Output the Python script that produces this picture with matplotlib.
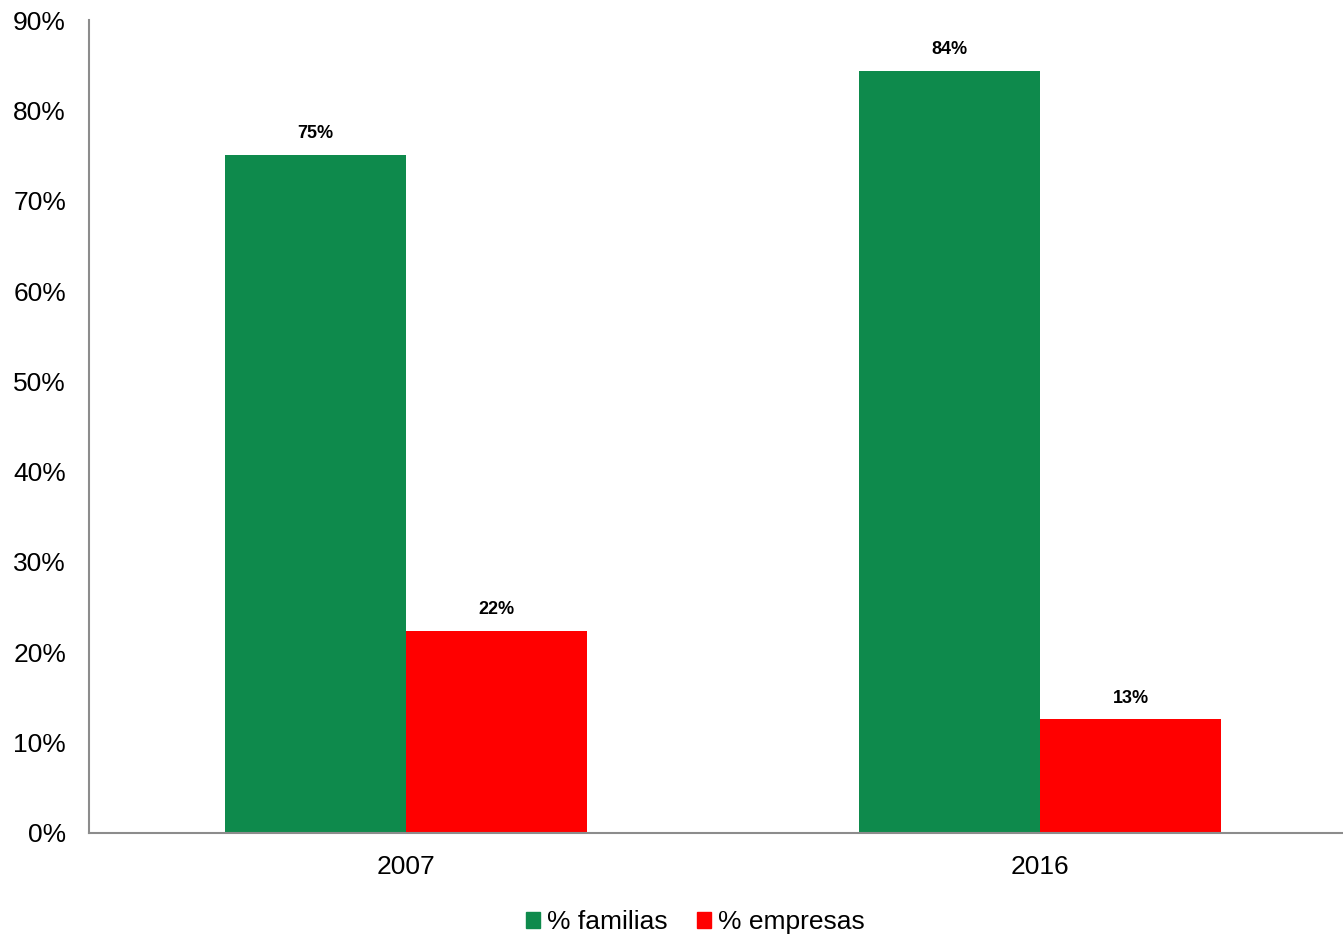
import matplotlib.pyplot as plt
import matplotlib.patches as mpatches
import numpy as np
from matplotlib.ticker import FuncFormatter

plt.rcParams["font.family"] = ["Liberation Sans", "DejaVu Sans"]

years = ["2007", "2016"]
familias = [75.1, 84.4]
empresas = [22.4, 12.6]
series_names = ["% familias", "% empresas"]
colors = ["#0E8A4C", "#FF0000"]

fig = plt.figure(figsize=(13.43, 9.35), dpi=100)
ax = fig.add_axes([0.0663, 0.1091, 0.9337, 0.8695])

x = np.arange(len(years))
w = 0.2855
b1 = ax.bar(x - w / 2, familias, w, color=colors[0], linewidth=0)
b2 = ax.bar(x + w / 2, empresas, w, color=colors[1], linewidth=0)

# value labels above bars
for bars in (b1, b2):
    for r in bars:
        h = r.get_height()
        ax.annotate(f"{h:.0f}%", (r.get_x() + r.get_width() / 2, h),
                    xytext=(0, 15), textcoords="offset points",
                    ha="center", va="center", fontsize=13, fontweight="bold")

ax.set_xlim(-0.5, 1.478)
ax.set_ylim(0, 90)
ax.set_yticks(range(0, 91, 10))
ax.yaxis.set_major_formatter(FuncFormatter(lambda v, p: f"{v:.0f}%"))
ax.set_xticks(x)
ax.set_xticklabels(years)
ax.tick_params(axis="both", length=0, labelsize=19)
ax.tick_params(axis="x", pad=16)
ax.tick_params(axis="y", pad=16.5)

for s in ["top", "right"]:
    ax.spines[s].set_visible(False)
for s in ["left", "bottom"]:
    ax.spines[s].set_color("#8C8C8C")
    ax.spines[s].set_linewidth(1.5)

handles = [mpatches.Patch(color=c, label=n) for c, n in zip(colors, series_names)]
fig.legend(handles=handles, loc="center", bbox_to_anchor=(0.518, 0.0135),
           ncol=2, frameon=False, fontsize=19, handlelength=0.53, handleheight=0.53,
           handletextpad=0.27, columnspacing=1.1, borderpad=0)

fig.savefig("out.png", dpi=100)
